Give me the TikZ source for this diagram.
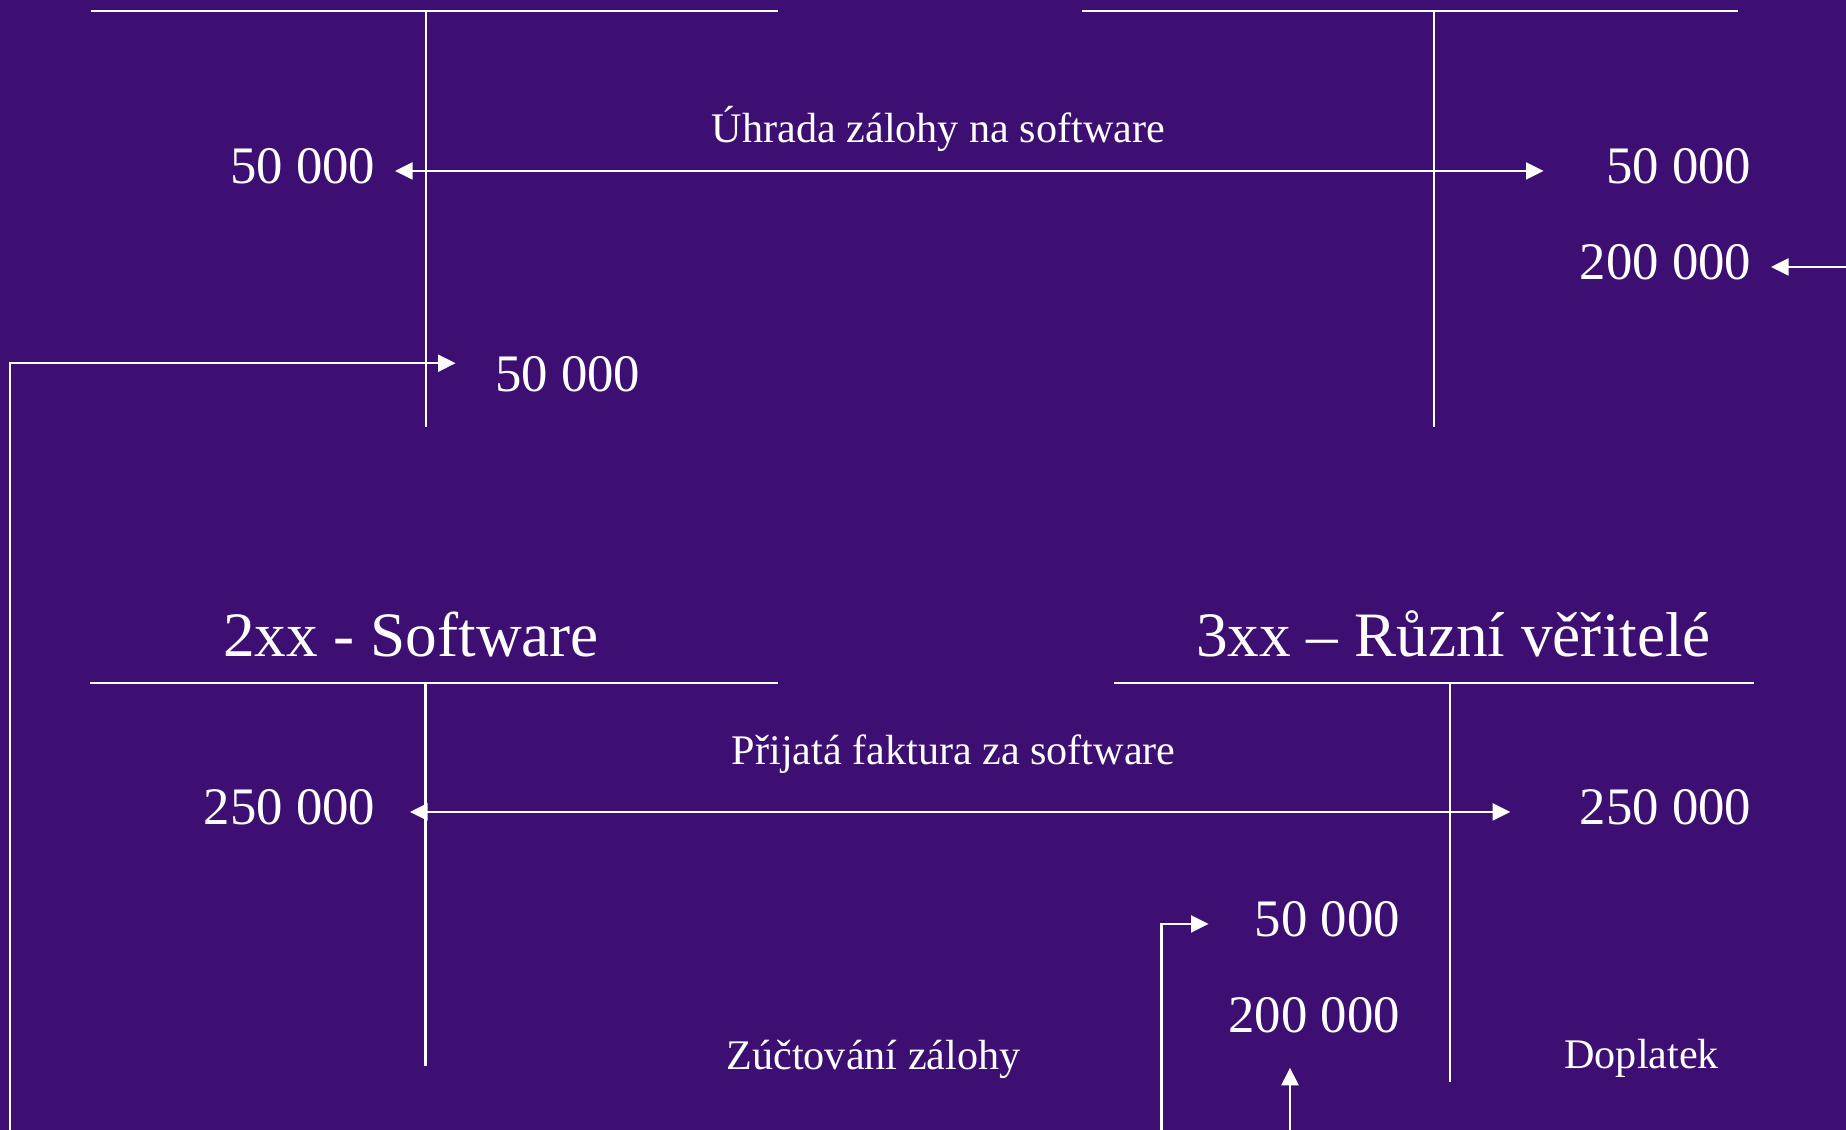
\documentclass[tikz,border=0pt]{standalone}
\usepackage{fontspec}
\setmainfont{Liberation Serif}
\usetikzlibrary{arrows.meta}
\definecolor{slide}{RGB}{62,15,115}
\begin{document}
\begin{tikzpicture}[arrow/.style = {white,line width=0.7pt,>={Triangle[length=5pt,width=4.8pt]}},
                    tline/.style = {white,line width=0.6pt},
                    amount/.style = {text=white,inner sep=0pt,text depth=0.09cm,font=\fontsize{15}{18}\selectfont},
                    heading/.style = {text=white,inner sep=0pt,font=\fontsize{18}{21}\selectfont},
                    note/.style = {text=white,inner sep=0pt,font=\fontsize{12}{14}\selectfont}]
                \useasboundingbox (0,0) rectangle (18.46,-11.30);
                \fill[slide] (0,0) rectangle (18.46,-11.30);

                \draw[tline] (0.906,-0.106) -- (7.78,-0.106);
                \draw[tline] (4.26,-0.106) -- (4.26,-4.27);
                \draw[tline] (10.82,-0.106) -- (17.38,-0.106);
                \draw[tline] (14.34,-0.106) -- (14.34,-4.27);
                \draw[tline] (0.90,-6.83) -- (7.78,-6.83);
                \draw[tline] (4.255,-6.83) -- (4.255,-10.66);
                \draw[tline] (11.14,-6.83) -- (17.54,-6.83);
                \draw[tline] (14.50,-6.83) -- (14.50,-10.82);

                \node[heading,anchor=base] (sw) at (4.11,-6.57) {2xx - Software};
                \node[heading,anchor=base] (rv) at (14.535,-6.57) {3xx – Různí věřitelé};

                \node[amount,anchor=base east] (zl50) at (3.76,-1.84) {50 000};
                \node[amount,anchor=base east] (zr50) at (17.52,-1.84) {50 000};
                \node[amount,anchor=base east] (zr200) at (17.52,-2.80) {200 000};
                \node[amount,anchor=base east] (zs50) at (6.41,-3.92) {50 000};
                \node[amount,anchor=base east] (sw250) at (3.76,-8.25) {250 000};
                \node[amount,anchor=base east] (rv250) at (17.52,-8.25) {250 000};
                \node[amount,anchor=base east] (rv50) at (14.005,-9.37) {50 000};
                \node[amount,anchor=base east] (rv200) at (14.005,-10.33) {200 000};

                \node[note,anchor=base] (uhr) at (9.385,-1.43) {Úhrada zálohy na software};
                \node[note,anchor=base] (fak) at (9.537,-7.65) {Přijatá faktura za software};
                \node[note,anchor=base] (zuc) at (8.735,-10.70) {Zúčtování zálohy};
                \node[note,anchor=base] (dop) at (16.417,-10.69) {Doplatek};

                \coordinate (zucl) at (0.10,-11.30);
                \coordinate (zucr) at (11.617,-11.30);
                \coordinate (dopl) at (12.90,-11.30);
                \coordinate (bank) at (18.46,-2.67);

                \draw[arrow,<->,shorten <=0.19cm,shorten >=0.62cm] (zl50.east) -- (zr50.west);
                \draw[arrow,->,shorten >=0.19cm] (zr200.east -| bank) -- (zr200.east);
                \draw[arrow,->] (zucl) |- ([shift={(-0.39,-0.07)}]zs50.north west);
                \draw[arrow,<->,shorten <=0.34cm,shorten >=0.69cm] (sw250.east) -- (rv250.west);
                \draw[arrow,->,shorten >=0.455cm] (zucr) |- (rv50.west);
                \draw[arrow,->,shorten >=0.25cm] (dopl) -- (dopl |- rv200.south);
            \end{tikzpicture}
\end{document}
